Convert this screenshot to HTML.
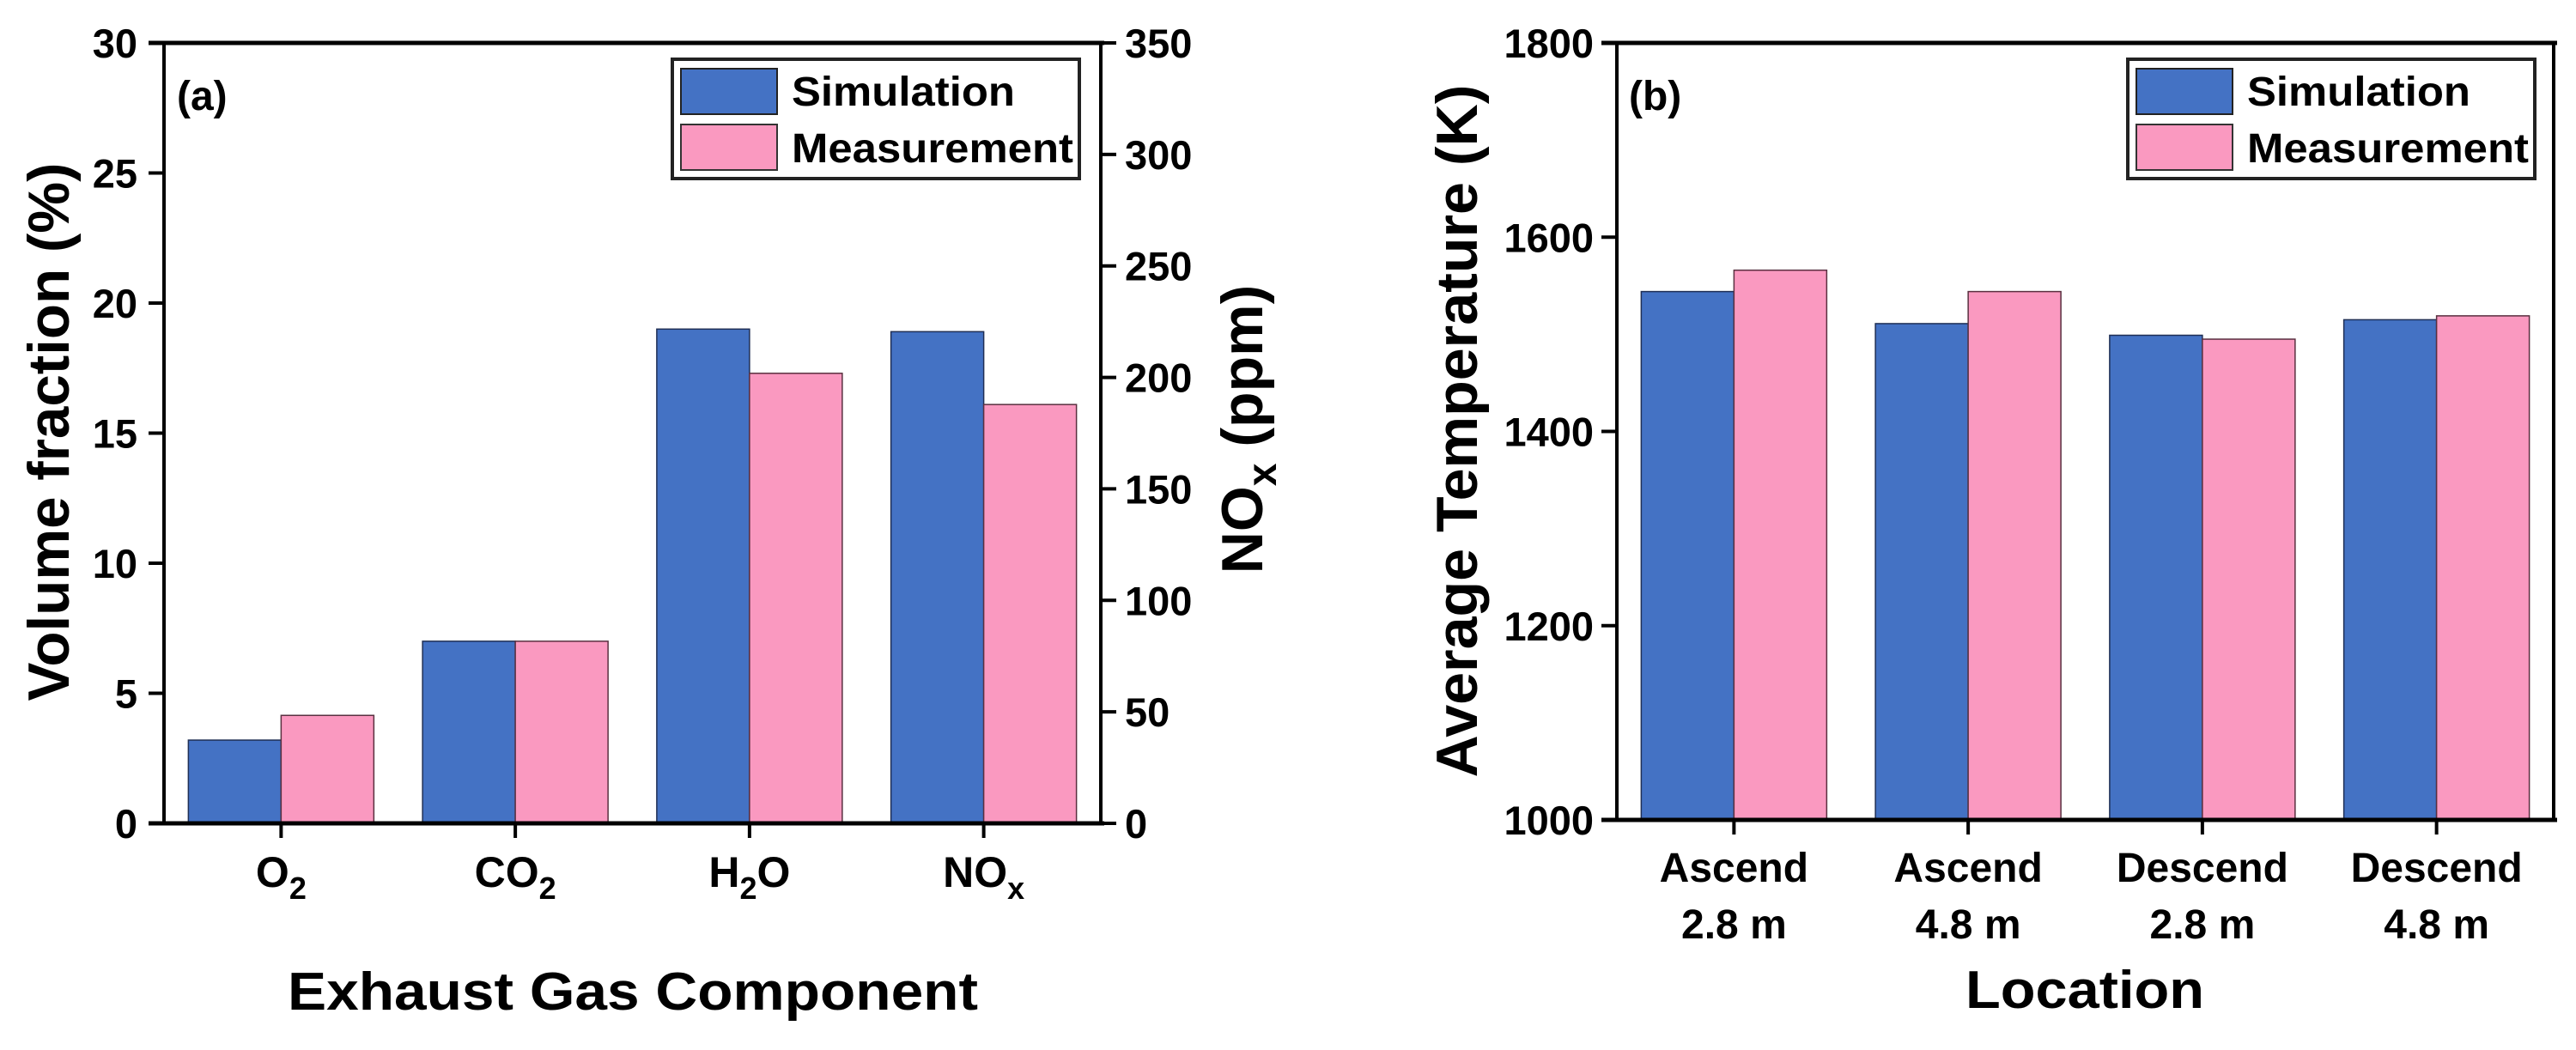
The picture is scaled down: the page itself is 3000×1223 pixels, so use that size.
<!DOCTYPE html>
<html><head><meta charset="utf-8"><style>
html,body{margin:0;padding:0;background:#fff}
svg{display:block}
text{font-family:"Liberation Sans",Arial,sans-serif;font-weight:bold;fill:#000}
</style></head><body>
<svg id="fig" width="3000" height="1223" viewBox="0 0 3000 1223" xmlns="http://www.w3.org/2000/svg">
<g id="pa"></g>
<g id="pb"></g>
</svg>
<script>
// Panel (a) data
const catsA = ["O", "CO", "H", "NO"];
const catsASub = ["2", "2", "2", "x"];
const catsASuffix = ["", "", "O", ""];
const simA = [3.2, 7.0, 19.0, 18.9];
const measA = [4.15, 7.0, 17.3, 16.1];
const ticksA = [0, 5, 10, 15, 20, 25, 30];
const ticksARight = [0, 50, 100, 150, 200, 250, 300, 350];
// Panel (b) data
const catsB1 = ["Ascend", "Ascend", "Descend", "Descend"];
const catsB2 = ["2.8 m", "4.8 m", "2.8 m", "4.8 m"];
const simB = [1544, 1511, 1499, 1515];
const measB = [1566, 1544, 1495, 1519];
const ticksB = [1000, 1200, 1400, 1600, 1800];

const NS = "http://www.w3.org/2000/svg";
function mk(parent, tag, attrs, txt) {
  const e = document.createElementNS(NS, tag);
  for (const k in attrs) e.setAttribute(k, attrs[k]);
  if (txt !== undefined) e.textContent = txt;
  parent.appendChild(e);
  return e;
}
const BLUE = "#4472C4", PINK = "#FA99C0";

function panel(g, o) {
  const L = o.x0, R = o.x1, T = 50, B = o.bottom;
  const yS = v => B - (v - o.ymin) / (o.ymax - o.ymin) * (B - T);
  const band = (R - L) / o.n;
  const xC = i => L + band * (i + 0.5);
  const bw = 108;
  for (let i = 0; i < o.n; i++) {
    const ys = yS(o.sim[i]), ym = yS(o.meas[i]);
    const b1 = mk(g, "rect", {x: xC(i) - bw, y: ys, width: bw, height: B - ys, fill: BLUE, stroke: "#1f2f55", "stroke-width": 1.5});
    
    
    const b2 = mk(g, "rect", {x: xC(i), y: ym, width: bw, height: B - ym, fill: PINK, stroke: "#5a3040", "stroke-width": 1.5});
    
    
    const tk = mk(g, "line", {x1: xC(i), x2: xC(i), y1: B, y2: B + 17, stroke: "#000", "stroke-width": 4});
    
    
  }
  mk(g, "line", {x1: L - 18, x2: R + 4, y1: T, y2: T, stroke: "#000", "stroke-width": 5});
  mk(g, "line", {x1: L - 18, x2: R + 4, y1: B, y2: B, stroke: "#000", "stroke-width": 5});
  mk(g, "line", {x1: L, x2: L, y1: T, y2: B, stroke: "#000", "stroke-width": 4});
  mk(g, "line", {x1: R, x2: R, y1: T, y2: B, stroke: "#000", "stroke-width": 4});
  o.ticks.forEach(v => {
    const y = yS(v);
    mk(g, "line", {x1: L - 18, x2: L, y1: y, y2: y, stroke: "#000", "stroke-width": 4});
    const t = mk(g, "text", {x: o.labelRight, y: y + 17, "font-size": 47, "text-anchor": "end"}, v);
    
    
  });
  return {yS, xC};
}

// Panel a
const ga = document.getElementById("pa");
const A = panel(ga, {x0: 191, x1: 1282, bottom: 959, ymin: 0, ymax: 30, n: 4, sim: simA, meas: measA, ticks: ticksA, labelRight: 160});
const ySR = v => 959 - v / 350 * 909;
ticksARight.forEach(v => {
  const y = ySR(v);
  mk(ga, "line", {x1: 1282, x2: 1300, y1: y, y2: y, stroke: "#000", "stroke-width": 4});
  const t = mk(ga, "text", {x: 1310, y: y + 17, "font-size": 47}, v);
  
  
});
catsA.forEach((c, i) => {
  const t = mk(ga, "text", {x: A.xC(i), y: 1033, "font-size": 50, "text-anchor": "middle"});
  
  
  mk(t, "tspan", {}, c);
  mk(t, "tspan", {dy: 14, "font-size": 36}, catsASub[i]);
  if (catsASuffix[i]) mk(t, "tspan", {dy: -14}, catsASuffix[i]);
});

// Panel b
const gb = document.getElementById("pb");
const Bp = panel(gb, {x0: 1883, x1: 2974, bottom: 955, ymin: 1000, ymax: 1800, n: 4, sim: simB, meas: measB, ticks: ticksB, labelRight: 1856});
catsB1.forEach((c, i) => {
  const t1 = mk(gb, "text", {x: Bp.xC(i), y: 1027, "font-size": 48, "text-anchor": "middle"}, c);
  
  
  const t2 = mk(gb, "text", {x: Bp.xC(i), y: 1093, "font-size": 48, "text-anchor": "middle"}, catsB2[i]);
  
  
});
function legend(g, x) {
  const lg = mk(g, "g", {});
  
  
  mk(lg, "rect", {x: x, y: 69, width: 474, height: 139, fill: "#fff", stroke: "#222", "stroke-width": 4});
  mk(lg, "rect", {x: x + 10, y: 80, width: 112, height: 53, fill: BLUE, stroke: "#222", "stroke-width": 2});
  mk(lg, "rect", {x: x + 10, y: 145, width: 112, height: 53, fill: PINK, stroke: "#333", "stroke-width": 2});
  const s = mk(lg, "text", {x: x + 139, y: 123, "font-size": 48, textLength: 260, lengthAdjust: "spacingAndGlyphs"}, "Simulation");
  
  
  const m = mk(lg, "text", {x: x + 139, y: 189, "font-size": 48, textLength: 328, lengthAdjust: "spacingAndGlyphs"}, "Measurement");
  
  
}
legend(ga, 783);
legend(gb, 2478);

// Titles
const svg = document.getElementById("fig");
function txt(attrs, s, name) {
  const t = mk(svg, "text", attrs, s);
  
  
  return t;
}
txt({x: 206, y: 128, "font-size": 48}, "(a)", "panel-label-a");
txt({x: 1897, y: 128, "font-size": 48}, "(b)", "panel-label-b");
txt({x: 737, y: 1176, "font-size": 62, "text-anchor": "middle", textLength: 804, lengthAdjust: "spacingAndGlyphs"}, "Exhaust Gas Component", "x-axis-title-a");
txt({x: 2428, y: 1174, "font-size": 62, "text-anchor": "middle", textLength: 278, lengthAdjust: "spacingAndGlyphs"}, "Location", "x-axis-title-b");
txt({x: 0, y: 0, "font-size": 68, "text-anchor": "middle", textLength: 627, lengthAdjust: "spacingAndGlyphs", transform: "translate(80,503) rotate(-90)"}, "Volume fraction (%)", "y-axis-title-a");
txt({x: 0, y: 0, "font-size": 68, "text-anchor": "middle", textLength: 807, lengthAdjust: "spacingAndGlyphs", transform: "translate(1720,502) rotate(-90)"}, "Average Temperature (K)", "y-axis-title-b");
const n = txt({x: 0, y: 0, "font-size": 68, "text-anchor": "middle", transform: "translate(1470,500) rotate(-90)"}, "", "right-y-axis-title-a");
mk(n, "tspan", {}, "NO");
mk(n, "tspan", {dy: 16, "font-size": 48}, "x");
mk(n, "tspan", {dy: -16}, " (ppm)");
</script>
</body></html>
